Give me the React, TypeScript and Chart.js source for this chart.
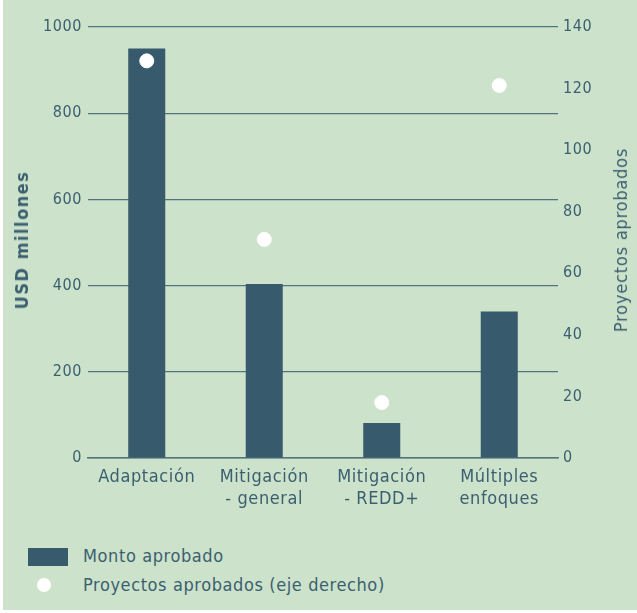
import React, { useEffect, useRef } from "react";
import { Chart, registerables } from "chart.js";

Chart.register(...registerables);

const categories: string[][] = [["Adaptación"], ["Mitigación", "- general"], ["Mitigación", "- REDD+"], ["Múltiples", "enfoques"]];
const montoAprobado: number[] = [950, 404, 81, 340];
const proyectosAprobados: number[] = [129, 71, 18, 121];
const leftTicks: number[] = [0, 200, 400, 600, 800, 1000];
const rightTicks: number[] = [0, 20, 40, 60, 80, 100, 120, 140];

const BG = "#cce2ca";
const BAR = "#375a6c";
const TEXT = "#3b5f70";
const GRID = "#52737f";
const FONT = "'DejaVu Sans Condensed', 'DejaVu Sans', sans-serif";

const spacingPlugin = {
  id: "spacing",
  beforeLayout: (chart: any) => {
    chart.ctx.letterSpacing = "0.6px";
  },
  beforeDraw: (chart: any) => {
    chart.ctx.letterSpacing = "0.6px";
  },
};

export default function App() {
  const ref = useRef<HTMLCanvasElement | null>(null);
  useEffect(() => {
    if (!ref.current) return;
    const chart = new Chart(ref.current, {
      type: "bar",
      data: {
        labels: categories,
        datasets: [
          {
            type: "scatter" as any,
            label: "Proyectos aprobados (eje derecho)",
            data: proyectosAprobados as any,
            yAxisID: "y1",
            backgroundColor: "#ffffff",
            borderColor: "#ffffff",
            pointRadius: 7,
            pointHoverRadius: 7,
            showLine: false,
            order: 0,
          } as any,
          {
            type: "bar",
            label: "Monto aprobado",
            data: montoAprobado,
            yAxisID: "y",
            backgroundColor: BAR,
            borderWidth: 0,
            barPercentage: 0.315,
            categoryPercentage: 1,
            order: 1,
          },
        ],
      },
      plugins: [spacingPlugin],
      options: {
        animation: false,
        responsive: false,
        maintainAspectRatio: false,
        devicePixelRatio: 1,
        layout: { padding: { top: 27, left: 0, right: 0, bottom: 0 } },
        plugins: { legend: { display: false }, tooltip: { enabled: false } },
        scales: {
          x: {
            type: "category",
            grid: { display: false, drawTicks: false },
            border: { display: true, color: GRID, width: 1.5 },
            ticks: {
              color: TEXT,
              font: { family: FONT, size: 18, lineHeight: 1.2 },
              padding: 9,
              maxRotation: 0,
              autoSkip: false,
            },
            afterFit: (s: any) => {
              s.height = 62;
            },
          },
          y: {
            position: "left",
            min: 0,
            max: 1000,
            afterBuildTicks: (s: any) => {
              s.ticks = leftTicks.map((v) => ({ value: v }));
            },
            grid: { color: GRID, lineWidth: 1.2, drawTicks: false },
            border: { display: false },
            ticks: {
              color: TEXT,
              font: { family: FONT, size: 16 },
              padding: 6,
              callback: (v: any) => String(v),
            },
            afterFit: (s: any) => {
              s.width = 88;
            },
          },
          y1: {
            position: "right",
            min: 0,
            max: 140,
            afterBuildTicks: (s: any) => {
              s.ticks = rightTicks.map((v) => ({ value: v }));
            },
            grid: { display: false, drawTicks: false },
            border: { display: false },
            ticks: {
              color: TEXT,
              font: { family: FONT, size: 16 },
              padding: 5,
              callback: (v: any) => String(v),
            },
            afterFit: (s: any) => {
              s.width = 79;
            },
          },
        },
      },
    });
    return () => chart.destroy();
  }, []);

  const legendText: React.CSSProperties = {
    position: "absolute",
    left: 83,
    color: TEXT,
    fontFamily: FONT,
    fontSize: 18,
    letterSpacing: "0.6px",
    lineHeight: "20px",
    whiteSpace: "nowrap",
  };

  const vTitle = (cx: number, cy: number, text: string, bold: boolean, spacing: number): React.ReactNode => (
    <div
      style={{
        position: "absolute",
        left: cx,
        top: cy,
        transform: "translate(-50%, -50%) rotate(-90deg)",
        color: TEXT,
        fontFamily: FONT,
        fontSize: 18,
        fontWeight: bold ? "bold" : "normal",
        letterSpacing: `${spacing}px`,
        lineHeight: "20px",
        whiteSpace: "nowrap",
      }}
    >
      {text}
    </div>
  );

  return (
    <div style={{ position: "fixed", left: 0, top: 0, width: 637, height: 613, background: "#ffffff" }}>
      <div style={{ position: "absolute", left: 3, top: 0, width: 634, height: 610, background: BG }} />
      <canvas ref={ref} width={637} height={520} style={{ position: "absolute", left: 0, top: 0, width: 637, height: 520 }} />
      {vTitle(22, 240, "USD millones", true, 1.5)}
      {vTitle(621, 240, "Proyectos aprobados", false, 0.8)}
      <div style={{ position: "absolute", left: 28, top: 548, width: 40, height: 18, background: BAR }} />
      <div style={{ ...legendText, top: 546 }}>Monto aprobado</div>
      <div style={{ position: "absolute", left: 37, top: 578, width: 14, height: 14, borderRadius: 7, background: "#ffffff" }} />
      <div style={{ ...legendText, top: 575 }}>Proyectos aprobados (eje derecho)</div>
    </div>
  );
}
